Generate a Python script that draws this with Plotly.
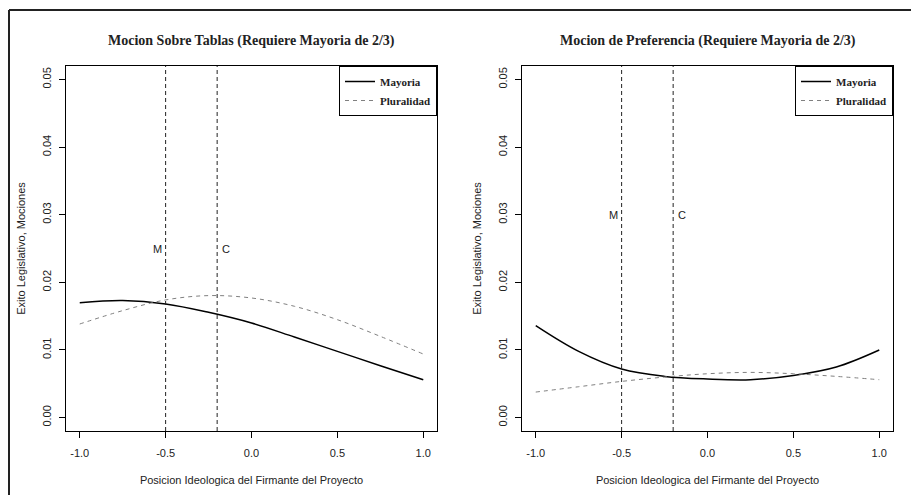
import plotly.graph_objects as go

# ---- data ----
x_pos = [-1.0, -0.75, -0.5, -0.25, 0.0, 0.25, 0.5, 0.75, 1.0]

tablas_mayoria = [0.01699, 0.01729, 0.01680, 0.01556, 0.01398, 0.01190, 0.00978, 0.00766, 0.00559]
tablas_pluralidad = [0.01383, 0.01581, 0.01739, 0.01803, 0.01768, 0.01645, 0.01447, 0.01200, 0.00939]

pref_mayoria = [0.01359, 0.00978, 0.00717, 0.00608, 0.00569, 0.00559, 0.00622, 0.00747, 0.00999]
pref_pluralidad = [0.00376, 0.00455, 0.00534, 0.00598, 0.00647, 0.00667, 0.00647, 0.00608, 0.00559]

titles = ["Mocion Sobre Tablas (Requiere Mayoria de 2/3)",
          "Mocion de Preferencia (Requiere Mayoria de 2/3)"]
series_names = ["Mayoria", "Pluralidad"]
ref_lines_x = [-0.5, -0.2]
ref_labels = ["M", "C"]
label_x = [-0.55, -0.15]
label_y = [0.025, 0.030]
x_ticks = [-1.0, -0.5, 0.0, 0.5, 1.0]
x_ticklabels = ["-1.0", "-0.5", "0.0", "0.5", "1.0"]
y_ticks = [0.00, 0.01, 0.02, 0.03, 0.04, 0.05]
y_ticklabels = ["0.00", "0.01", "0.02", "0.03", "0.04", "0.05"]
x_title = "Posicion Ideologica del Firmante del Proyecto"
y_title = "Exito Legislativo, Mociones"

W, H = 911, 495
SERIF = "Liberation Serif"
SANS = "Liberation Sans, Arial, sans-serif"

fig = go.Figure()

panels = [
    (tablas_mayoria, tablas_pluralidad, "x", "y", "legend"),
    (pref_mayoria, pref_pluralidad, "x2", "y2", "legend2"),
]
for i, (maj, plu, xa, ya, lg) in enumerate(panels):
    fig.add_trace(go.Scatter(x=x_pos, y=maj, mode="lines", name=series_names[0],
                             line=dict(color="black", width=1.5, shape="spline"),
                             xaxis=xa, yaxis=ya, legend=lg))
    fig.add_trace(go.Scatter(x=x_pos, y=plu, mode="lines", name=series_names[1],
                             line=dict(color="#808080", width=1, dash="4px,4px", shape="spline"),
                             xaxis=xa, yaxis=ya, legend=lg))

def px(xp):
    return xp / W

def py(yp):
    return 1 - yp / H

x_domains = [[px(66), px(437)], [px(522), px(893)]]
y_domain = [py(431), py(66)]

axis_common = dict(
    showline=True, linecolor="black", linewidth=1, mirror=True,
    ticks="outside", ticklen=6, tickcolor="black", tickwidth=1,
    showgrid=False, zeroline=False, automargin=False,
    tickfont=dict(family=SANS, size=11, color="#222"),
)
for i in range(2):
    sfx = "" if i == 0 else "2"
    fig.update_layout(**{
        "xaxis" + sfx: dict(axis_common, domain=x_domains[i], range=[-1.08, 1.08],
                            tickvals=x_ticks, ticktext=x_ticklabels,
                            ticklabelstandoff=6,
                            anchor="y" + sfx,
                            title=dict(text=x_title, font=dict(family=SANS, size=11, color="#222"),
                                       standoff=18)),
        "yaxis" + sfx: dict(axis_common, domain=y_domain, range=[-0.002, 0.052],
                            tickvals=y_ticks, ticktext=y_ticklabels, tickangle=-90,
                            ticklabelstandoff=4,
                            anchor="x" + sfx,
                            title=dict(text=y_title, font=dict(family=SANS, size=11, color="#222"),
                                       standoff=12)),
    })
    for xv in ref_lines_x:
        fig.add_shape(type="line", xref="x" + sfx, yref="y" + sfx + " domain",
                      x0=xv, x1=xv, y0=0, y1=1,
                      line=dict(color="#222", width=1, dash="4px,3px"))
    for lab, lx in zip(ref_labels, label_x):
        fig.add_annotation(x=lx, y=label_y[i], xref="x" + sfx, yref="y" + sfx,
                           text=lab, showarrow=False, xanchor="center",
                           font=dict(family=SANS, size=11, color="#222"))
    fig.add_annotation(x=(x_domains[i][0] + x_domains[i][1]) / 2, y=py(41),
                       xref="paper", yref="paper", text="<b>" + titles[i] + "</b>",
                       showarrow=False, xanchor="center", yanchor="middle",
                       font=dict(family=SERIF, size=14, color="#222"))

legend_common = dict(
    bgcolor="white", bordercolor="black", borderwidth=1,
    font=dict(family=SERIF, size=11, color="#222", weight="bold"),
    xanchor="right", yanchor="top", tracegroupgap=0,
    itemwidth=30, traceorder="normal",
)
fig.update_layout(
    legend=dict(legend_common, x=x_domains[0][1], y=y_domain[1]),
    legend2=dict(legend_common, x=x_domains[1][1], y=y_domain[1]),
)

fig.add_shape(type="line", xref="paper", yref="paper", x0=px(9), x1=1, y0=py(10), y1=py(10),
              line=dict(color="#222", width=2))
fig.add_shape(type="line", xref="paper", yref="paper", x0=px(9), x1=px(9), y0=0, y1=py(10),
              line=dict(color="#222", width=2))

fig.update_layout(
    width=W, height=H,
    margin=dict(l=0, r=0, t=0, b=0),
    paper_bgcolor="white", plot_bgcolor="white",
    showlegend=True,
)

fig.write_html("out.html",
               config={"displayModeBar": False},
               post_script="document.body.style.margin='0';document.body.style.overflow='hidden';")
